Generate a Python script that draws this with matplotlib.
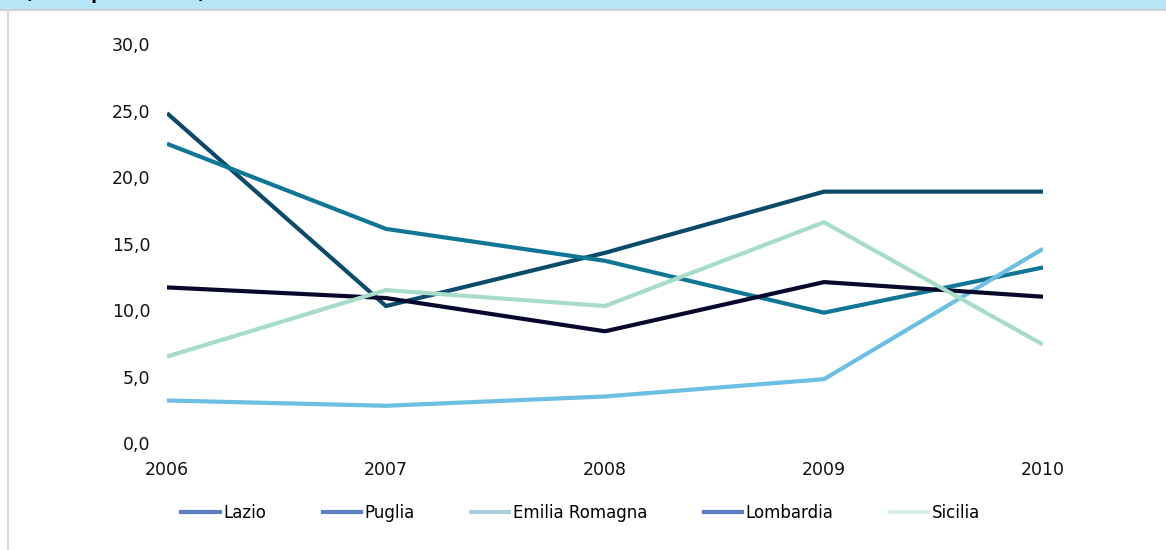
import matplotlib.pyplot as plt
from matplotlib.lines import Line2D
from matplotlib.patches import Rectangle

# Dati
anni = [2006, 2007, 2008, 2009, 2010]
regioni = ['Lazio', 'Puglia', 'Emilia Romagna', 'Lombardia', 'Sicilia']
lazio = [24.8, 10.3, 14.3, 18.9, 18.9]
puglia = [22.5, 16.1, 13.7, 9.8, 13.2]
emilia = [3.2, 2.8, 3.5, 4.8, 14.6]
lombardia = [11.7, 10.9, 8.4, 12.1, 11.0]
sicilia = [6.5, 11.5, 10.3, 16.6, 7.4]
serie = [lazio, puglia, emilia, lombardia, sicilia]

colori_linee = ['#0b4a69', '#117696', '#6cbee2', '#07082c', '#a7dcc9']
colori_legenda = ['#5b7fc1', '#5b7fc1', '#a9cfdc', '#5b7fc1', '#d9eee7']

fig = plt.figure(figsize=(11.66, 5.5), dpi=100)
ax = fig.add_axes([0.1432, 0.1945, 0.7513, 0.7255])

for valori, col in zip(serie, colori_linee):
    ax.plot(anni, valori, color=col, lw=3, solid_capstyle='butt')

ax.set_xlim(2006, 2010)
ax.set_ylim(0, 30)
ax.set_xticks(anni)
ax.set_xticklabels([str(a) for a in anni])
ax.set_yticks(range(0, 31, 5))
ax.set_yticklabels([f'{v},0' for v in range(0, 31, 5)])
ax.tick_params(length=0, labelsize=12.5, colors='#111111')
ax.tick_params(axis='x', pad=13)
ax.tick_params(axis='y', pad=12)
for s in ax.spines.values():
    s.set_visible(False)

# Legenda
handles = [Line2D([], [], color=c, lw=3) for c in colori_legenda]
fig.legend(handles, regioni, loc='center', bbox_to_anchor=(0.498, 0.067),
           ncol=5, frameon=False, fontsize=12, handlelength=2.3,
           handletextpad=0.2, columnspacing=3.4)

# Cornice e banda del titolo
fig.patches.append(Rectangle((0, 1 - 9 / 550), 1, 9 / 550, transform=fig.transFigure,
                             facecolor='#b8e4f8', edgecolor='none'))
fig.lines.append(Line2D([0, 1], [1 - 9.5 / 550] * 2, transform=fig.transFigure,
                        color='#cfd3d6', lw=1.5))
fig.lines.append(Line2D([8 / 1166] * 2, [0, 1 - 10 / 550], transform=fig.transFigure,
                        color='#d9d9d9', lw=1.5))
fig.text(25 / 1166, 1 + 1 / 550, '(valori percentuali)', fontsize=12,
         fontweight='bold', va='baseline', ha='left')

fig.savefig('out.png', dpi=100)
